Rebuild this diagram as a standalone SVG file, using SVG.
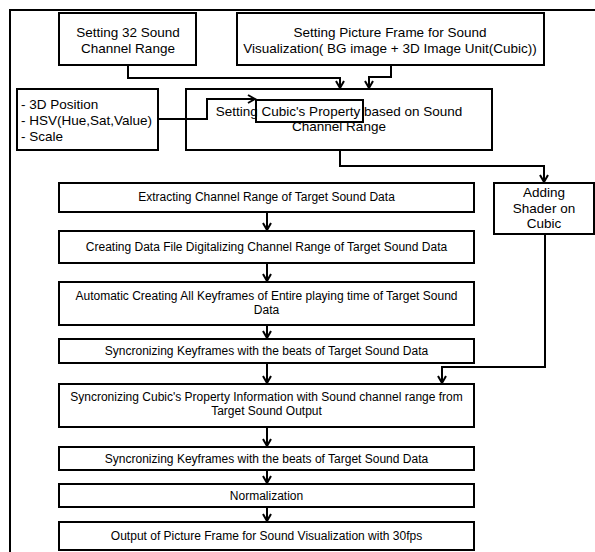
<svg xmlns="http://www.w3.org/2000/svg" width="595" height="552" viewBox="0 0 595 552">
<defs>
<style>
.box{fill:#fff;stroke:#000;stroke-width:2}
.ln{fill:none;stroke:#000;stroke-width:2}
text{font-family:"Liberation Sans",Arial,sans-serif;fill:#000}
.t13{font-size:13.5px}
.t11{font-size:12px}
.c{text-anchor:middle}
</style>
<marker id="ah" markerWidth="10" markerHeight="10" refX="8" refY="5" orient="auto" markerUnits="userSpaceOnUse">
<path d="M1,1 L8,5 L1,9" fill="none" stroke="#000" stroke-width="2"/>
</marker>
</defs>
<rect x="0" y="0" width="595" height="552" fill="#fff"/>
<rect id="frame" x="10" y="10" width="600" height="560" fill="none" stroke="#000" stroke-width="2"/>

<g id="n1">
<rect class="box" x="59" y="13" width="137" height="52"/>
<text class="t13 c" x="128" y="37">Setting 32 Sound</text>
<text class="t13 c" x="128" y="53">Channel Range</text>
</g>
<g id="n2">
<rect class="box" x="237" y="13" width="307" height="52"/>
<text class="t13 c" x="390" y="37">Setting Picture Frame for Sound</text>
<text class="t13 c" x="390" y="53">Visualization( BG image + 3D Image Unit(Cubic))</text>
</g>
<g id="n3">
<rect class="box" x="17" y="89" width="141" height="61"/>
<text class="t13" x="21" y="109">- 3D Position</text>
<text class="t13" x="21" y="125">- HSV(Hue,Sat,Value)</text>
<text class="t13" x="21" y="141">- Scale</text>
</g>
<g id="n4">
<rect class="box" x="186" y="89" width="306" height="61"/>
<rect fill="none" stroke="#000" stroke-width="2" x="256" y="100" width="107" height="22"/>
<text class="t13 c" x="339" y="116">Setting Cubic's Property based on Sound</text>
<text class="t13 c" x="339" y="131">Channel Range</text>
</g>
<g id="n5">
<rect class="box" x="494" y="183" width="100" height="51"/>
<text class="t13 c" x="544" y="197">Adding</text>
<text class="t13 c" x="544" y="213">Shader on</text>
<text class="t13 c" x="544" y="228">Cubic</text>
</g>
<g id="n6">
<rect class="box" x="59" y="183" width="415" height="29"/>
<text class="t11 c" x="266.5" y="201">Extracting Channel Range of Target Sound Data</text>
</g>
<g id="n7">
<rect class="box" x="59" y="231" width="415" height="32"/>
<text class="t11 c" x="266.5" y="251">Creating Data File Digitalizing Channel Range of Target Sound Data</text>
</g>
<g id="n8">
<rect class="box" x="59" y="282" width="415" height="43"/>
<text class="t11 c" x="266.5" y="300">Automatic Creating All Keyframes of Entire playing time of Target Sound</text>
<text class="t11 c" x="266.5" y="314">Data</text>
</g>
<g id="n9">
<rect class="box" x="59" y="339" width="415" height="24"/>
<text class="t11 c" x="266.5" y="355">Syncronizing Keyframes with the beats of Target Sound Data</text>
</g>
<g id="n10">
<rect class="box" x="59" y="384" width="415" height="43"/>
<text class="t11 c" x="266.5" y="401">Syncronizing Cubic's Property Information with Sound channel range from</text>
<text class="t11 c" x="266.5" y="415">Target Sound Output</text>
</g>
<g id="n11">
<rect class="box" x="59" y="447" width="415" height="23"/>
<text class="t11 c" x="266.5" y="463">Syncronizing Keyframes with the beats of Target Sound Data</text>
</g>
<g id="n12">
<rect class="box" x="59" y="484" width="415" height="23"/>
<text class="t11 c" x="266.5" y="500">Normalization</text>
</g>
<g id="n13">
<rect class="box" x="59" y="522" width="415" height="28"/>
<text class="t11 c" x="266.5" y="540">Output of Picture Frame for Sound Visualization with 30fps</text>
</g>

<g id="connectors">
<polyline class="ln" points="128,65 128,78 340,78 340,88" marker-end="url(#ah)"/>
<polyline class="ln" points="391,65 391,77 369,77 369,88" marker-end="url(#ah)"/>
<polyline class="ln" points="158,119 207,119 207,99 255,99" marker-end="url(#ah)"/>
<polyline class="ln" points="340,150 340,166 544,166 544,182" marker-end="url(#ah)"/>
<polyline class="ln" points="545,234 545,367 442,367 442,383" marker-end="url(#ah)"/>
<line class="ln" x1="267" y1="212" x2="267" y2="230" marker-end="url(#ah)"/>
<line class="ln" x1="267" y1="263" x2="267" y2="281" marker-end="url(#ah)"/>
<line class="ln" x1="267" y1="325" x2="267" y2="338" marker-end="url(#ah)"/>
<line class="ln" x1="267" y1="363" x2="267" y2="383" marker-end="url(#ah)"/>
<line class="ln" x1="267" y1="427" x2="267" y2="446" marker-end="url(#ah)"/>
<line class="ln" x1="267" y1="470" x2="267" y2="483" marker-end="url(#ah)"/>
<line class="ln" x1="267" y1="507" x2="267" y2="521" marker-end="url(#ah)"/>
</g>
</svg>
